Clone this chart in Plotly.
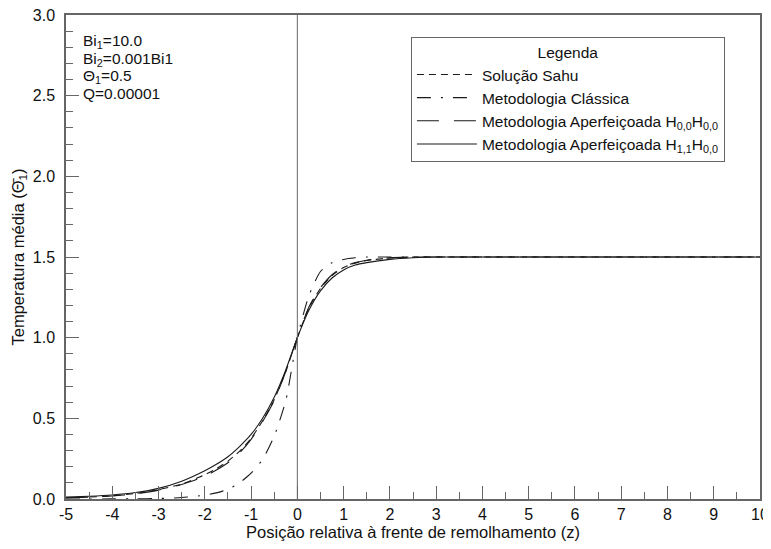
import plotly.graph_objects as go

# ---- data ----
z_vals = [-5, -4.5, -4, -3.5, -3, -2.5, -2, -1.75, -1.5, -1.25, -1, -0.75, -0.5, -0.25,
          0, 0.25, 0.5, 0.75, 1, 1.25, 1.5, 2, 2.5, 3, 4, 5, 6, 7, 8, 9, 10]

sahu = [0.008, 0.012, 0.020, 0.034, 0.058, 0.093, 0.150, 0.188, 0.235, 0.295, 0.375, 0.485,
        0.615, 0.790, 1.0, 1.185, 1.305, 1.385, 1.435, 1.462, 1.478, 1.494, 1.499, 1.5,
        1.5, 1.5, 1.5, 1.5, 1.5, 1.5, 1.5]

classica = [0.0001, 0.0003, 0.0005, 0.0012, 0.003, 0.009, 0.024, 0.038, 0.060, 0.100, 0.160,
            0.245, 0.390, 0.610, 1.0, 1.26, 1.41, 1.465, 1.485, 1.495, 1.5, 1.5, 1.5, 1.5,
            1.5, 1.5, 1.5, 1.5, 1.5, 1.5, 1.5]

h00 = [0.008, 0.012, 0.019, 0.032, 0.055, 0.090, 0.140, 0.180, 0.225, 0.285, 0.370, 0.480,
       0.610, 0.790, 1.0, 1.19, 1.31, 1.39, 1.44, 1.465, 1.48, 1.495, 1.5, 1.5,
       1.5, 1.5, 1.5, 1.5, 1.5, 1.5, 1.5]

h11 = [0.012, 0.017, 0.025, 0.040, 0.066, 0.110, 0.175, 0.215, 0.262, 0.325, 0.400, 0.500,
       0.630, 0.800, 1.0, 1.17, 1.29, 1.37, 1.42, 1.45, 1.465, 1.485, 1.495, 1.5,
       1.5, 1.5, 1.5, 1.5, 1.5, 1.5, 1.5]

series_names = ["Solução Sahu", "Metodologia Clássica",
                "Metodologia Aperfeiçoada H<sub>0,0</sub>H<sub>0,0</sub>",
                "Metodologia Aperfeiçoada H<sub>1,1</sub>H<sub>0,0</sub>"]
series_vals = [sahu, classica, h00, h11]
series_dash = ["7px,5px", "14px,10px,2px,10px", "22px,15px", "solid"]

x_tick_vals = list(range(-5, 11))
x_tick_text = [str(v) for v in x_tick_vals]          # plain hyphen minus, as in reference
y_tick_vals = [0.0, 0.5, 1.0, 1.5, 2.0, 2.5, 3.0]
y_tick_text = ["0.0", "0.5", "1.0", "1.5", "2.0", "2.5", "3.0"]

param_labels = ["Bi<sub>1</sub>=10.0", "Bi<sub>2</sub>=0.001Bi1",
                "Θ<sub>1</sub>=0.5", "Q=0.00001"]

FONT = "Liberation Sans, Arial, sans-serif"
AX = "#666666"

fig = go.Figure()
for name, vals, dash in zip(series_names, series_vals, series_dash):
    fig.add_trace(go.Scatter(
        x=z_vals, y=vals, mode="lines", name=name,
        line=dict(color="#1a1a1a", width=1.1, dash=dash, shape="spline", smoothing=0.6),
    ))

# vertical line at z = 0
fig.add_shape(type="line", x0=0, x1=0, y0=0, y1=1, xref="x", yref="paper",
              line=dict(color=AX, width=1))

# parameter annotations
for i, txt in enumerate(param_labels):
    fig.add_annotation(x=0.021, y=0.945 - i * 0.036, xref="paper", yref="paper",
                       text=txt, showarrow=False, xanchor="left", yanchor="middle",
                       font=dict(family=FONT, size=15.5, color="#111"))

fig.update_layout(
    width=771, height=549,
    margin=dict(l=58, r=19, t=7, b=58, autoexpand=False),
    paper_bgcolor="white", plot_bgcolor="white",
    font=dict(family=FONT, size=16, color="#111"),
    legend=dict(
        x=0.497, y=0.955, xanchor="left", yanchor="top",
        bordercolor=AX, borderwidth=1, bgcolor="white",
        title=dict(text="Legenda", side="top center", font=dict(size=15.5)),
        font=dict(family=FONT, size=15.5, color="#111"),
        tracegroupgap=0, itemwidth=60,
    ),
    xaxis=dict(
        range=[-5, 10], tickvals=x_tick_vals, ticktext=x_tick_text,
        ticks="inside", ticklen=13, automargin=False, ticklabeloverflow="allow",
        tickcolor=AX, showline=True, linecolor=AX, linewidth=1.5, mirror=True,
        showgrid=False, zeroline=False,
        minor=dict(dtick=0.5, ticks="inside", ticklen=7, tickcolor=AX, showgrid=False),
        title=dict(text="Posição relativa à frente de remolhamento (z)", standoff=2,
                   font=dict(size=16.5)),
        tickfont=dict(size=16),
    ),
    yaxis=dict(
        range=[0, 3], tickvals=y_tick_vals, ticktext=y_tick_text,
        ticks="inside", ticklen=13, automargin=False, ticklabelstandoff=6,
        ticklabeloverflow="allow",
        tickcolor=AX, showline=True, linecolor=AX, linewidth=1.5, mirror=True,
        showgrid=False, zeroline=False,
        minor=dict(dtick=0.1, ticks="inside", ticklen=7, tickcolor=AX, showgrid=False),
        title=dict(text="Temperatura média (Θ̄<sub>1</sub>)", standoff=4,
                   font=dict(size=16.5)),
        tickfont=dict(size=16),
    ),
)

fig.write_html("out.html")
